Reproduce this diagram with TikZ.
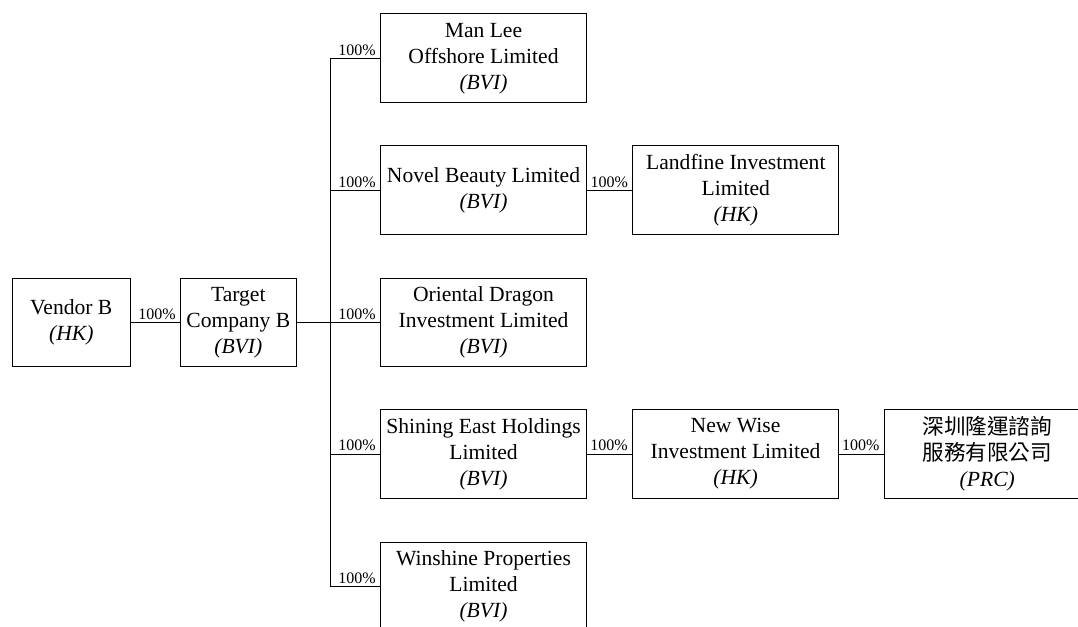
\documentclass[tikz,border=0pt]{standalone}
\usepackage{fontspec}
\setmainfont{Liberation Serif}
\newfontfamily\cjk{Noto Sans CJK TC}
\usepackage{tikz}
\usetikzlibrary{positioning}
\tikzset{every picture/.style={line width=0.9pt}}
\tikzset{
  entity/.style={draw, minimum width=206pt, minimum height=88.7pt, align=center, inner sep=2pt,
    font=\fontsize{21.6pt}{26pt}\selectfont},
  pct/.style={anchor=south east, inner sep=1pt, xshift=-3pt, yshift=1.5pt,
    font=\fontsize{16pt}{18pt}\selectfont},
}

\begin{document}
\begin{tikzpicture}[x=1pt,y=-1pt]
\useasboundingbox (0,0) rectangle (1078,626);
%
\node[entity, minimum width=118.7pt] (vendor) at (71.3,322.3) {Vendor B\\\textit{(HK)}};
\node[entity, minimum width=115.3pt] (target) at (238.3,322.3) {Target\\Company B\\\textit{(BVI)}};
\coordinate (split) at (330,322.3);
%
\node[entity] (manlee) at (483.5,58.3) {Man Lee\\Offshore Limited\\\textit{(BVI)}};
\node[entity] (novel) at (483.5,190.2) {Novel Beauty Limited\\\textit{(BVI)}};
\node[entity] (oriental) at (483.5,322.3) {Oriental Dragon\\Investment Limited\\\textit{(BVI)}};
\node[entity] (shining) at (483.5,454) {Shining East Holdings\\Limited\\\textit{(BVI)}};
\node[entity] (winshine) at (483.5,586.5) {Winshine Properties\\Limited\\\textit{(BVI)}};
%
\node[entity] (landfine) at (735.8,190.2) {Landfine Investment\\Limited\\\textit{(HK)}};
\node[entity] (newwise) at (735.5,454) {New Wise\\Investment Limited\\\textit{(HK)}};
\node[entity] (prc) at (987.3,454) {{\cjk 深圳隆運諮詢}\\{\cjk 服務有限公司}\\\textit{(PRC)}};
%
\draw (vendor.east) -- (target.west) node[pct] {100\%};
\draw (target.east) -- (split);
\draw (split) |- (manlee.west) node[pct] {100\%};
\draw (split) |- (novel.west) node[pct] {100\%};
\draw (split) -- (oriental.west) node[pct] {100\%};
\draw (split) |- (shining.west) node[pct] {100\%};
\draw (split) |- (winshine.west) node[pct] {100\%};
\draw (novel.east) -- (landfine.west) node[pct] {100\%};
\draw (shining.east) -- (newwise.west) node[pct] {100\%};
\draw (newwise.east) -- (prc.west) node[pct] {100\%};
\end{tikzpicture}
\end{document}
